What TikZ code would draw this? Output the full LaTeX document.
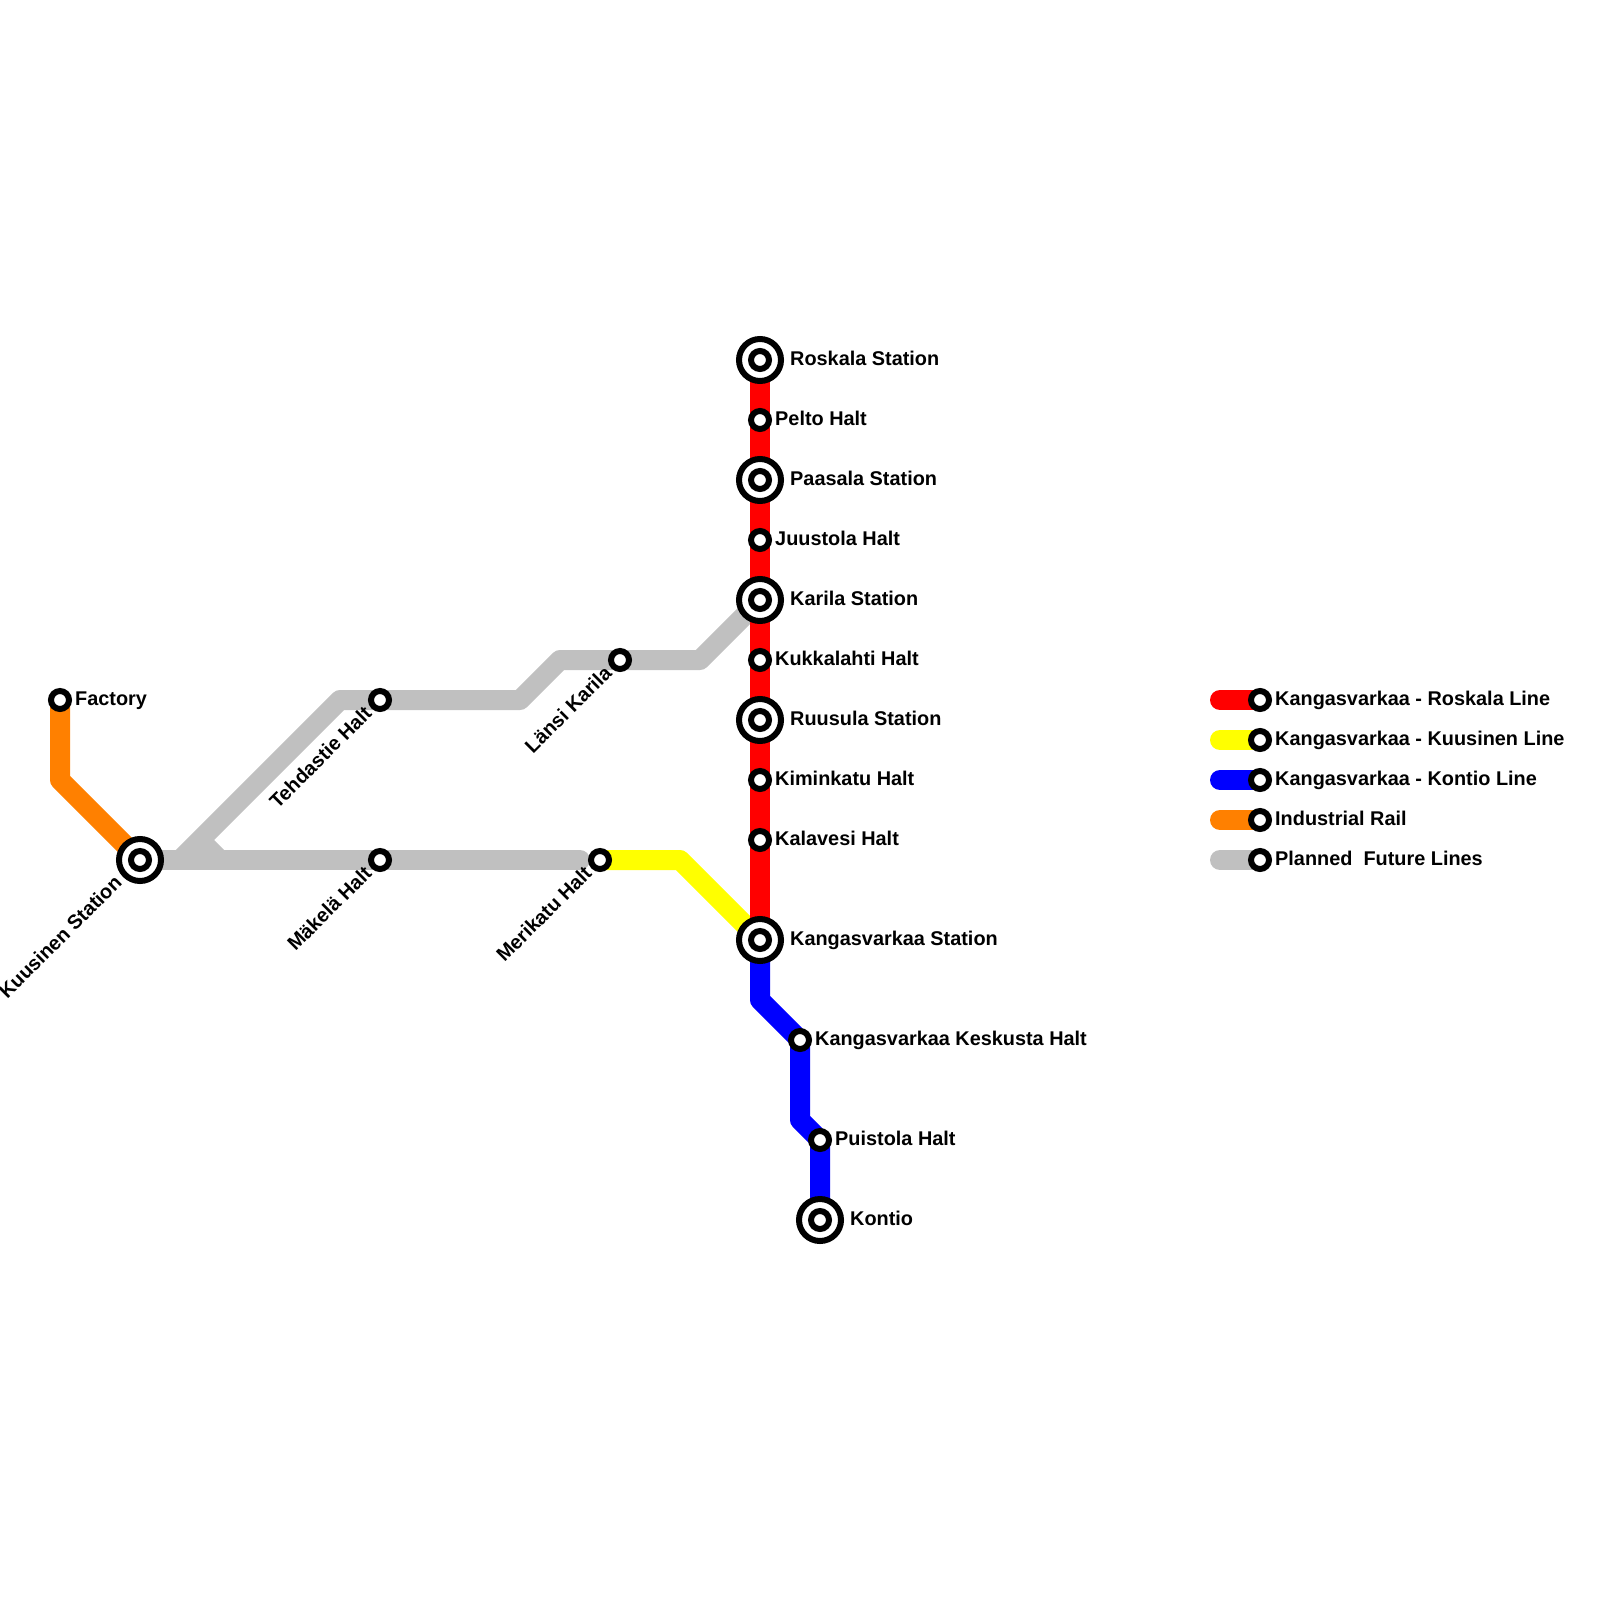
\documentclass[tikz,border=0pt]{standalone}
\usepackage{fontspec}
\setmainfont{Liberation Sans}
\usetikzlibrary{backgrounds}
\tikzset{
  x=1pt,y=-1pt,
  halt/.style={circle,draw=black,fill=white,line width=6pt,minimum size=18pt,inner sep=0pt,outer sep=0pt},
  major/.style={circle,draw=black,fill=white,line width=6pt,minimum size=42pt,inner sep=0pt,outer sep=0pt,
    path picture={\draw[line width=6pt,black,fill=white] (path picture bounding box.center) circle (9pt);}},
  lab/.style={font=\bfseries\fontsize{19.87}{24}\selectfont,anchor=base west,inner sep=0pt,text=black},
  rlab/.style={font=\bfseries\fontsize{19.87}{24}\selectfont,anchor=base east,inner sep=0pt,text=black,rotate=45},
  route/.style={line width=20pt,line join=round,line cap=butt},
  key/.style={line width=20pt,line cap=round},
}
\definecolor{rred}{RGB}{255,0,0}
\definecolor{ryel}{RGB}{255,255,0}
\definecolor{rblu}{RGB}{0,0,255}
\definecolor{rora}{RGB}{255,128,0}
\definecolor{rgry}{RGB}{192,192,192}
\begin{document}
\begin{tikzpicture}
\useasboundingbox (0,0) rectangle (1600,1600);
% stations
\node[major] (ros) at (760,360) {};
\node[halt] (pel) at (760,420) {};
\node[major] (paa) at (760,480) {};
\node[halt] (juu) at (760,540) {};
\node[major] (kar) at (760,600) {};
\node[halt] (kuk) at (760,660) {};
\node[major] (ruu) at (760,720) {};
\node[halt] (kim) at (760,780) {};
\node[halt] (kal) at (760,840) {};
\node[major] (kan) at (760,940) {};
\node[halt] (kes) at (800,1040) {};
\node[halt] (pui) at (820,1140) {};
\node[major] (kon) at (820,1220) {};
\node[halt] (fac) at (60,700) {};
\node[major] (kuu) at (140,860) {};
\node[halt] (teh) at (380,700) {};
\node[halt] (mak) at (380,860) {};
\node[halt] (mer) at (600,860) {};
\node[halt] (lan) at (620,660) {};
% bends
\coordinate (o1) at (60,780);
\coordinate (g1) at (180,860);
\coordinate (g2) at (340,700);
\coordinate (g3) at (520,700);
\coordinate (g4) at (560,660);
\coordinate (g5) at (700,660);
\coordinate (g6) at (200,840);
\coordinate (g7) at (220,860);
\coordinate (g8) at (580,860);
\coordinate (y1) at (680,860);
\coordinate (b1) at (760,1000);
\coordinate (b2) at (800,1120);
% legend stations and starts
\node[halt] (k1) at (1260,700) {};
\node[halt] (k2) at (1260,740) {};
\node[halt] (k3) at (1260,780) {};
\node[halt] (k4) at (1260,820) {};
\node[halt] (k5) at (1260,860) {};
\coordinate (s1) at (1220,700);
\coordinate (s2) at (1220,740);
\coordinate (s3) at (1220,780);
\coordinate (s4) at (1220,820);
\coordinate (s5) at (1220,860);
\begin{scope}[on background layer]
\draw[route,rora] (fac.center) -- (o1) -- (kuu.center);
\draw[route,rgry] (g1) -- (g2) -- (teh.center) -- (g3) -- (g4) -- (lan.center) -- (g5) -- (kar.center);
\draw[route,rgry] (g6) -- (g7);
\draw[route,rgry,line cap=round] (kuu.center) -- (mak.center) -- (g8);
\fill[rgry] (g1) -- (g6) -- (g7) -- cycle;
\draw[route,ryel] (mer.center) -- (y1) -- (kan.center);
\draw[route,rred] (ros.center) -- (pel.center) -- (paa.center) -- (juu.center) -- (kar.center) -- (kuk.center) -- (ruu.center) -- (kim.center) -- (kal.center) -- (kan.center);
\draw[route,rblu] (kan.center) -- (b1) -- (kes.center) -- (b2) -- (pui.center) -- (kon.center);
\draw[key,rred] (s1) -- (k1.center);
\draw[key,ryel] (s2) -- (k2.center);
\draw[key,rblu] (s3) -- (k3.center);
\draw[key,rora] (s4) -- (k4.center);
\draw[key,rgry] (s5) -- (k5.center);
\end{scope}
% labels
\node[lab] (lros) at (790,365.5) {Roskala Station};
\node[lab] (lpel) at (775,425.5) {Pelto Halt};
\node[lab] (lpaa) at (790,485.5) {Paasala Station};
\node[lab] (ljuu) at (775,545.5) {Juustola Halt};
\node[lab] (lkar) at (790,605.5) {Karila Station};
\node[lab] (lkuk) at (775,665.5) {Kukkalahti Halt};
\node[lab] (lruu) at (790,725.5) {Ruusula Station};
\node[lab] (lkim) at (775,785.5) {Kiminkatu Halt};
\node[lab] (lkal) at (775,845.5) {Kalavesi Halt};
\node[lab] (lkan) at (790,945.5) {Kangasvarkaa Station};
\node[lab] (lkes) at (815,1045.5) {Kangasvarkaa Keskusta Halt};
\node[lab] (lpui) at (835,1145.5) {Puistola Halt};
\node[lab] (lkon) at (850,1225.5) {Kontio};
\node[lab] (lfac) at (75,705.5) {Factory};
\node[lab] (lk1) at (1275,705.5) {Kangasvarkaa - Roskala Line};
\node[lab] (lk2) at (1275,745.5) {Kangasvarkaa - Kuusinen Line};
\node[lab] (lk3) at (1275,785.5) {Kangasvarkaa - Kontio Line};
\node[lab] (lk4) at (1275,825.5) {Industrial Rail};
\node[lab] (lk5) at (1275,865.5) {Planned\ \ Future Lines};
\node[rlab] (lkuu) at (123,884) {Kuusinen Station};
\node[rlab] (lteh) at (373,714.5) {Tehdastie Halt};
\node[rlab] (lmak) at (373,874.5) {Mäkelä Halt};
\node[rlab] (lmer) at (593,874.5) {Merikatu Halt};
\node[rlab] (llan) at (613,674.5) {Länsi Karila};
\end{tikzpicture}
\end{document}
